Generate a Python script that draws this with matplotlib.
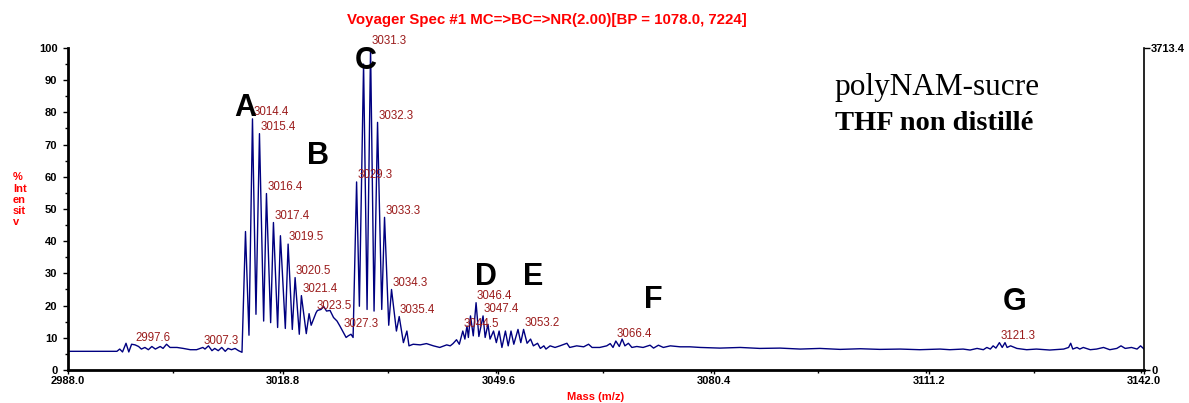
import numpy as np
import matplotlib.pyplot as plt
from matplotlib.ticker import MultipleLocator

plt.rcParams['font.family'] = ['Liberation Sans', 'DejaVu Sans']

# spectrum trace (m/z, % intensity), read peak by peak
mz = [2988.0, 2995.0, 2995.4, 2995.8, 2996.3, 2996.7, 2997.1, 2997.6, 2998.1, 2998.5,
      2999.0, 2999.5, 3000.0, 3000.5, 3001.2, 3001.6, 3002.1, 3002.6, 3003.6, 3004.5,
      3005.5, 3006.4, 3007.3, 3007.6, 3008.1, 3008.6, 3009.0, 3009.5, 3010.0, 3010.5,
      3010.9, 3011.4, 3011.9, 3012.4, 3012.9, 3013.4, 3013.9, 3014.4, 3014.9, 3015.4,
      3016.0, 3016.4, 3017.0, 3017.4, 3018.0, 3018.4, 3019.1, 3019.5, 3020.1, 3020.5,
      3021.1, 3021.4, 3022.1, 3022.5, 3022.8, 3023.5, 3023.7, 3024.2, 3024.6, 3025.0,
      3025.5, 3026.0, 3026.5, 3026.9, 3027.3, 3027.8, 3028.1, 3028.5, 3028.8, 3029.3,
      3029.7, 3030.3, 3030.8, 3031.3, 3031.8, 3032.3, 3032.9, 3033.3, 3033.9, 3034.3,
      3035.0, 3035.4, 3036.0, 3036.5, 3036.8, 3037.4, 3038.4, 3039.3, 3040.3, 3041.2,
      3042.2, 3042.7, 3043.1, 3043.6, 3044.0, 3044.5, 3044.8, 3045.1, 3045.3, 3045.6,
      3046.0, 3046.4, 3046.8, 3047.4, 3047.7, 3048.1, 3048.4, 3048.9, 3049.3, 3049.7,
      3050.1, 3050.6, 3051.0, 3051.4, 3051.8, 3052.4, 3052.8, 3053.2, 3053.7, 3054.2,
      3054.6, 3055.2, 3055.6, 3056.1, 3056.4, 3057.0, 3057.7, 3058.4, 3059.4, 3059.8,
      3060.8, 3061.8, 3062.5, 3063.0, 3064.1, 3065.1, 3065.6, 3066.0, 3066.4, 3066.9,
      3067.3, 3067.7, 3068.2, 3068.7, 3069.4, 3070.3, 3071.3, 3071.8, 3072.5, 3073.2,
      3074.2, 3075.6, 3077.0, 3078.5, 3081.3, 3084.2, 3087.0, 3089.9, 3092.8, 3095.6,
      3098.5, 3101.4, 3104.2, 3107.1, 3109.9, 3112.8, 3114.2, 3116.1, 3117.1, 3118.1,
      3119.0, 3119.5, 3120.0, 3120.4, 3120.8, 3121.3, 3121.7, 3122.1, 3122.4, 3122.9,
      3123.8, 3125.2, 3126.6, 3128.5, 3130.5, 3131.2, 3131.5, 3131.8, 3132.4, 3132.8,
      3133.3, 3134.3, 3135.2, 3136.2, 3137.1, 3138.1, 3138.7, 3139.3, 3140.2, 3141.0,
      3141.5, 3142.0]
intensity = [5.8, 5.8, 6.5, 5.6, 8.3, 5.6, 8.0, 7.8, 7.3, 6.5,
             7.0, 6.3, 7.3, 6.5, 7.3, 6.7, 8.0, 7.0, 7.0, 6.7,
             6.3, 6.3, 7.0, 6.5, 7.5, 6.0, 6.7, 6.0, 7.0, 5.8,
             6.7, 6.3, 6.7, 6.0, 5.5, 43.0, 10.8, 78.0, 17.3, 73.4,
             15.2, 54.8, 14.7, 45.8, 13.2, 41.7, 12.9, 39.1, 12.6, 28.7,
             11.1, 23.1, 11.3, 17.5, 13.9, 17.8, 18.5, 18.8, 19.7, 18.3,
             18.5, 16.3, 15.2, 13.7, 12.1, 10.1, 10.6, 11.1, 10.1, 58.4,
             19.8, 95.0, 18.8, 100.0, 18.3, 76.9, 18.8, 47.4, 13.9, 25.0,
             12.1, 16.6, 8.5, 12.1, 7.5, 8.0, 7.8, 8.2, 7.5, 7.0,
             7.8, 7.5, 8.2, 9.4, 8.0, 12.1, 9.6, 13.7, 10.1, 16.8,
             10.6, 20.9, 10.4, 16.8, 10.1, 14.2, 9.6, 12.1, 8.5, 12.1,
             7.0, 12.1, 7.5, 12.1, 8.0, 12.6, 8.5, 12.6, 8.3, 9.6,
             7.5, 8.3, 6.7, 7.5, 6.5, 7.5, 7.0, 7.5, 8.3, 7.0,
             7.5, 7.2, 8.0, 7.0, 7.0, 7.5, 8.2, 7.0, 9.0, 7.3,
             9.6, 7.5, 8.3, 7.0, 7.3, 7.0, 7.7, 6.8, 7.7, 7.0,
             7.5, 7.2, 7.2, 7.0, 6.8, 7.0, 6.7, 6.8, 6.5, 6.7,
             6.4, 6.6, 6.4, 6.5, 6.3, 6.5, 6.3, 6.5, 6.2, 6.7,
             6.3, 7.0, 6.5, 7.5, 6.8, 8.5, 7.0, 8.5, 7.0, 7.5,
             6.7, 6.3, 6.5, 6.2, 6.5, 7.0, 8.3, 6.5, 7.0, 6.5,
             7.0, 6.3, 6.5, 7.0, 6.3, 6.7, 7.5, 6.7, 7.0, 6.5,
             7.5, 6.5]

# labelled peaks (m/z)
peak_labels = [2997.6, 3007.3, 3014.4, 3015.4, 3016.4, 3017.4, 3019.5, 3020.5, 3021.4,
               3023.5, 3027.3, 3029.3, 3031.3, 3032.3, 3033.3, 3034.3, 3035.4, 3044.5,
               3046.4, 3047.4, 3053.2, 3066.4, 3121.3]

# series letters and where they sit (m/z, %)
letters = ['A', 'B', 'C', 'D', 'E', 'F', 'G']
letter_mz = [3013.3, 3023.8, 3030.6, 3047.8, 3054.6, 3071.7, 3123.5]
letter_int = [81.4, 66.5, 96.0, 28.9, 28.9, 21.7, 21.2]

xticks = [2988.0, 3018.8, 3049.6, 3080.4, 3111.2, 3142.0]
abs_max = 3713.4

fig = plt.figure(figsize=(11.89, 4.03), dpi=100)
ax = fig.add_axes([0.0572, 0.0819, 0.9050, 0.7990])

ax.plot(mz, intensity, color='#000080', lw=1.0, solid_joinstyle='round', zorder=2)

mz_arr = np.array(mz)
for m in peak_labels:
    i = np.argmin(np.abs(mz_arr - m))
    ax.annotate(f'{m:.1f}', (mz[i], intensity[i]), xytext=(0.5, 0.5),
                textcoords='offset points', ha='left', va='bottom',
                fontsize=8.3, color='#9B1C1C', zorder=3)

for t, m, v in zip(letters, letter_mz, letter_int):
    ax.text(m, v, t, fontsize=22, fontweight='bold', ha='center', va='center',
            color='black', zorder=4)

ax.set_xlim(2988.0, 3142.0)
ax.set_ylim(0, 100)
ax.set_xticks(xticks)
ax.set_xticklabels([f'{x:.1f}' for x in xticks], fontsize=8, fontweight='bold')
ax.xaxis.set_minor_locator(MultipleLocator(15.4))
ax.yaxis.set_major_locator(MultipleLocator(10))
ax.yaxis.set_minor_locator(MultipleLocator(5))
for lab in ax.get_yticklabels():
    lab.set_fontweight('bold')
    lab.set_fontsize(8)
ax.tick_params(axis='y', which='major', direction='out', length=3.6, width=1, pad=4)
ax.tick_params(axis='x', which='major', direction='out', length=3, width=1, pad=1)
ax.tick_params(axis='both', which='minor', direction='out', length=2, width=1)

ax.spines['top'].set_visible(False)
ax.spines['left'].set_linewidth(2)
ax.spines['bottom'].set_linewidth(2)
ax.spines['right'].set_visible(False)

# absolute intensity scale on the right
ax2 = ax.twinx()
ax2.set_ylim(0, abs_max)
ax2.set_yticks([0, abs_max])
ax2.set_yticklabels(['0', f'{abs_max:.1f}'], fontsize=8, fontweight='bold')
ax2.tick_params(axis='y', direction='out', length=4, width=1, pad=1)
ax2.spines['top'].set_visible(False)
ax2.spines['left'].set_visible(False)
ax2.spines['bottom'].set_visible(False)
ax2.spines['right'].set_linewidth(1.2)

fig.text(0.46, 0.950, 'Voyager Spec #1 MC=>BC=>NR(2.00)[BP = 1078.0, 7224]',
         fontsize=10.8, fontweight='bold', color='red', ha='center', va='center')
fig.text(0.011, 0.504, '%\nInt\nen\nsit\nv', fontsize=8, fontweight='bold',
         color='red', ha='left', va='center', linespacing=1.15)
fig.text(0.501, 0.015, 'Mass (m/z)', fontsize=8, fontweight='bold', color='red',
         ha='center', va='center')

fig.text(0.702, 0.764, 'polyNAM-sucre', fontsize=22.5, family='Liberation Serif',
         ha='left', va='baseline')
fig.text(0.702, 0.677, 'THF non distillé', fontsize=20.5, family='Liberation Serif',
         fontweight='bold', ha='left', va='baseline')

fig.savefig('out.png', dpi=100)
